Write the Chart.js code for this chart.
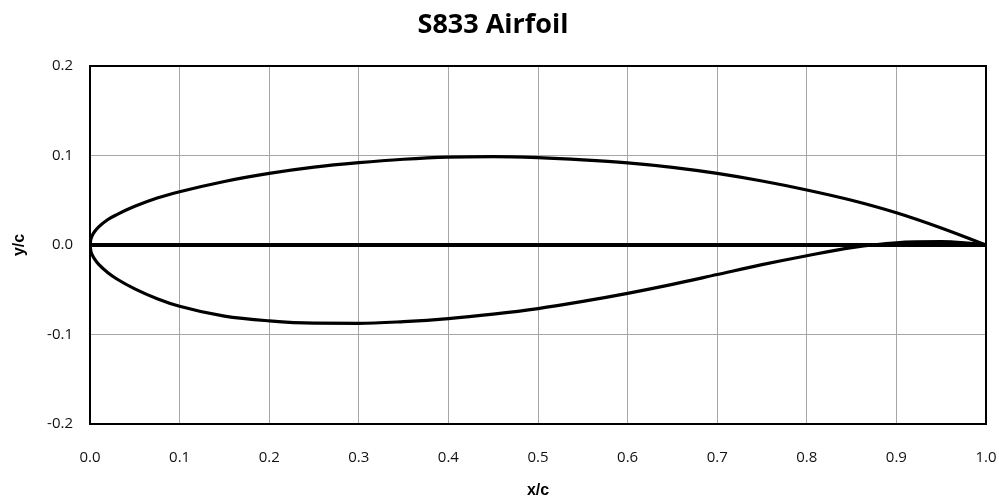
<!DOCTYPE html>
<html>
<head>
<meta charset="utf-8">
<script src="https://cdn.jsdelivr.net/npm/chart.js@4.4.1/dist/chart.umd.min.js"></script>
<style>
  html, body { margin: 0; padding: 0; background: #fff; }
  #wrap { width: 999px; height: 502px; }
</style>
</head>
<body>
<div id="wrap"><canvas id="myChart" width="999" height="502"></canvas></div>
<script>
// Upper surface (x/c, y/c)
const upperX = [0, 0.001, 0.0025, 0.005, 0.01, 0.02, 0.03, 0.05, 0.075, 0.1, 0.15, 0.2, 0.25, 0.3, 0.35, 0.4, 0.45, 0.5, 0.55, 0.6, 0.65, 0.7, 0.75, 0.8, 0.85, 0.9, 0.95, 1.0];
const upperY = [0, 0.0065, 0.0105, 0.0148, 0.0205, 0.0285, 0.034, 0.0432, 0.0525, 0.0595, 0.071, 0.080, 0.087, 0.092, 0.0958, 0.0982, 0.0988, 0.0976, 0.0952, 0.0918, 0.0868, 0.080, 0.0715, 0.0615, 0.050, 0.036, 0.019, 0];

// Lower surface (x/c, y/c)
const lowerX = [0, 0.001, 0.0025, 0.005, 0.01, 0.02, 0.03, 0.05, 0.075, 0.1, 0.15, 0.2, 0.25, 0.3, 0.35, 0.4, 0.45, 0.5, 0.55, 0.6, 0.65, 0.7, 0.75, 0.8, 0.85, 0.9, 0.95, 0.98, 1.0];
const lowerY = [0, -0.007, -0.011, -0.0155, -0.022, -0.031, -0.038, -0.049, -0.060, -0.0685, -0.0795, -0.0848, -0.0874, -0.0876, -0.0856, -0.0822, -0.0772, -0.071, -0.063, -0.054, -0.044, -0.033, -0.022, -0.012, -0.003, 0.0025, 0.0037, 0.002, 0];

// Chord line
const chordX = [0, 1];
const chordY = [0, 0];

const toPoints = (xs, ys) => xs.map((x, i) => ({ x: x, y: ys[i] }));

// Рамка навколо області графіка
const plotBox = {
    id: 'plotBox',
    afterDraw(chart) {
        const {ctx, chartArea} = chart;
        ctx.save();
        ctx.strokeStyle = '#000';
        ctx.lineWidth = 2;
        ctx.strokeRect(chartArea.left, chartArea.top, chartArea.right - chartArea.left, chartArea.bottom - chartArea.top);
        ctx.restore();
    }
};

const ctx = document.getElementById('myChart').getContext('2d');

const myChart = new Chart(ctx, {
    type: 'scatter',
    data: {
        datasets: [
            {
                label: 'Upper',
                data: toPoints(upperX, upperY),
                showLine: true,
                borderColor: '#000',
                borderWidth: 3.2,
                pointRadius: 0,
                cubicInterpolationMode: 'monotone',
                fill: false
            },
            {
                label: 'Lower',
                data: toPoints(lowerX, lowerY),
                showLine: true,
                borderColor: '#000',
                borderWidth: 3.2,
                pointRadius: 0,
                cubicInterpolationMode: 'monotone',
                fill: false
            },
            {
                label: 'Chord',
                data: toPoints(chordX, chordY),
                showLine: true,
                borderColor: '#000',
                borderWidth: 4,
                pointRadius: 0,
                fill: false
            }
        ]
    },
    options: {
        responsive: false,
        animation: false,
        layout: {
            padding: { left: 0, right: 13, top: 0, bottom: 0 }
        },
        plugins: {
            legend: { display: false },
            tooltip: { enabled: false },
            title: {
                display: true,
                text: 'S833 Airfoil',
                color: '#000',
                font: { family: 'Open Sans', size: 27, weight: 'bold', lineHeight: 1.2 },
                padding: { top: 9, bottom: 24.6 }
            }
        },
        scales: {
            x: {
                type: 'linear',
                min: 0,
                max: 1,
                afterFit: (scale) => {
                    scale.height = 78;
                    scale.paddingLeft = 0;
                    scale.paddingRight = 0;
                },
                border: { display: false },
                grid: { color: '#a6a6a6', lineWidth: 1, drawTicks: false },
                ticks: {
                    stepSize: 0.1,
                    padding: 25,
                    color: '#111',
                    font: { family: 'Open Sans', size: 15 },
                    callback: (v) => v.toFixed(1)
                },
                title: {
                    display: true,
                    text: 'x/c',
                    color: '#000',
                    font: { family: 'Liberation Sans', size: 16, weight: 'bold', lineHeight: 1.2 },
                    padding: { top: 0, bottom: 2 }
                }
            },
            y: {
                type: 'linear',
                min: -0.2,
                max: 0.2,
                afterFit: (scale) => {
                    scale.width = 90;
                    scale.paddingTop = 0;
                    scale.paddingBottom = 0;
                },
                border: { display: false },
                grid: { color: '#a6a6a6', lineWidth: 1, drawTicks: false },
                ticks: {
                    stepSize: 0.1,
                    padding: 17,
                    color: '#111',
                    font: { family: 'Open Sans', size: 15 },
                    callback: (v) => v.toFixed(1)
                },
                title: {
                    display: true,
                    text: 'y/c',
                    color: '#000',
                    font: { family: 'Liberation Sans', size: 16, weight: 'bold', lineHeight: 1.2 },
                    padding: { top: 10, bottom: 0 }
                }
            }
        }
    },
    plugins: [plotBox]
});
</script>
</body>
</html>
